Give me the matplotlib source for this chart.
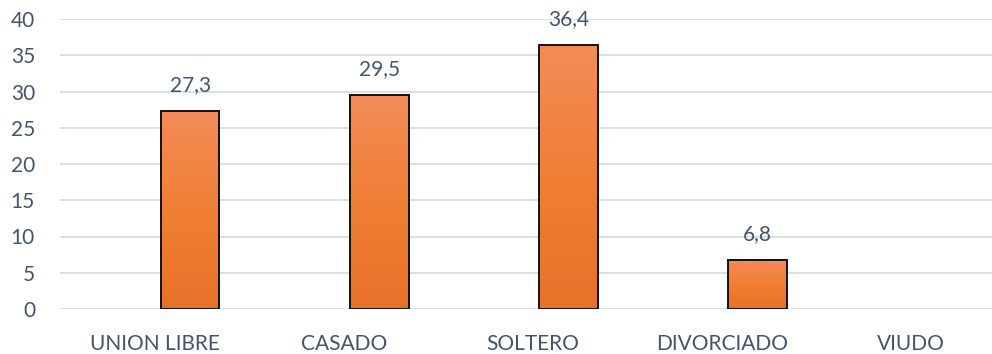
import matplotlib
matplotlib.use("Agg")
import matplotlib.pyplot as plt
import numpy as np
from matplotlib.colors import LinearSegmentedColormap

categories = ["UNION LIBRE", "CASADO", "SOLTERO", "DIVORCIADO", "VIUDO"]
values = [27.3, 29.5, 36.4, 6.8, 0.0]
value_labels = ["27,3", "29,5", "36,4", "6,8", ""]
y_ticks = [0, 5, 10, 15, 20, 25, 30, 35, 40]

text_color = "#44546A"
grid_color = "#D8E0E6"
plt.rcParams["font.family"] = ["Lato", "DejaVu Sans"]

fig = plt.figure(figsize=(9.92, 3.54), dpi=100)
ax = fig.add_axes([60 / 992, 45 / 354, (1005.5 - 60) / 992, 290 / 354])

x = np.arange(len(categories))
offset = 0.188
width = 0.31

bars = ax.bar(x + offset, values, width=width, facecolor="none",
              edgecolor="#111111", linewidth=1.4, zorder=4)

# vertical orange gradient inside each bar; empty bars get no outline
cmap = LinearSegmentedColormap.from_list("orange_grad", ["#E8712A", "#F07F35", "#F38C58"])
grad = np.linspace(0, 1, 256).reshape(-1, 1)
for rect, v in zip(bars, values):
    if v <= 0:
        rect.set_visible(False)
        continue
    x0 = rect.get_x()
    ax.imshow(grad, cmap=cmap, origin="lower", aspect="auto",
              extent=[x0, x0 + rect.get_width(), 0, v], zorder=3)

for rect, v, lab in zip(bars, values, value_labels):
    if lab:
        ax.text(rect.get_x() + rect.get_width() / 2, v + 2.2, lab,
                ha="center", va="bottom", fontsize=15, color=text_color)

ax.set_xlim(-0.5, len(categories) - 0.5)
ax.set_ylim(0, 40)
ax.set_yticks(y_ticks)
ax.set_yticklabels([str(t) for t in y_ticks])
ax.set_xticks(x)
ax.set_xticklabels(categories)
ax.tick_params(axis="both", length=0, labelsize=15, colors=text_color)
ax.tick_params(axis="y", pad=18)
ax.tick_params(axis="x", pad=18)
for lab in ax.get_xticklabels() + ax.get_yticklabels():
    lab.set_color(text_color)

ax.yaxis.grid(True, color=grid_color, linewidth=1.4, zorder=0)
ax.set_axisbelow(True)
for s in ax.spines.values():
    s.set_visible(False)

fig.savefig("out.png", dpi=100)
